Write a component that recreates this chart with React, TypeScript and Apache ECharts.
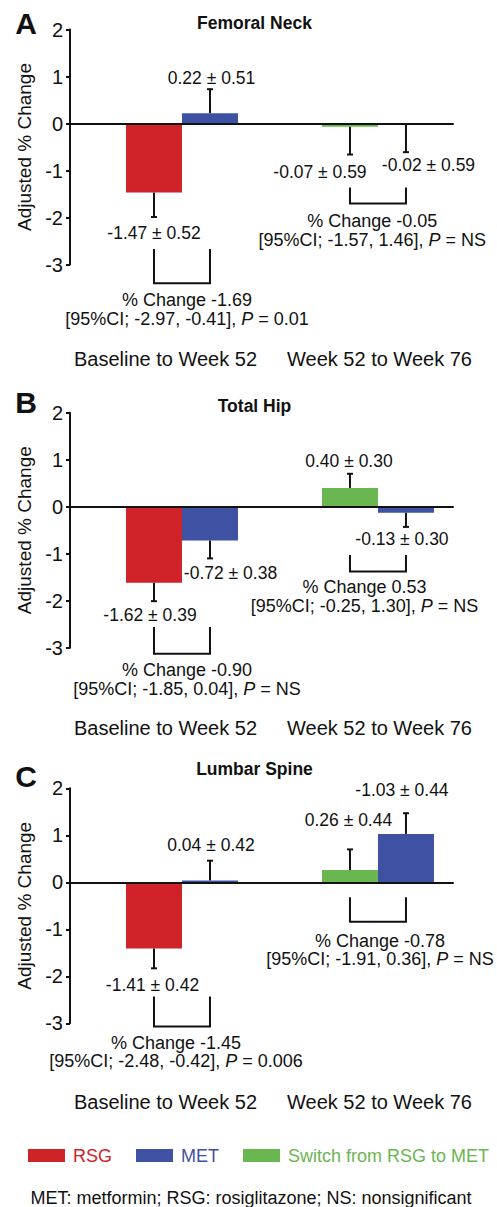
import React, { useEffect, useRef } from "react";
import * as echarts from "echarts";

// ---------- DATA ----------
const panelLetters = ["A", "B", "C"];
const panelTitles = ["Femoral Neck", "Total Hip", "Lumbar Spine"];
const periods = ["Baseline to Week 52", "Week 52 to Week 76"];
const treatments = ["RSG", "MET", "Switch from RSG to MET"];

const rsgWk52 = [-1.47, -1.62, -1.41];
const rsgWk52SE = [0.52, 0.39, 0.42];
const metWk52 = [0.22, -0.72, 0.04];
const metWk52SE = [0.51, 0.38, 0.42];
const switchWk76 = [-0.07, 0.4, 0.26];
const switchWk76SE = [0.59, 0.3, 0.44];
const metWk76 = [-0.02, -0.13, 1.03];
const metWk76SE = [0.59, 0.3, 0.44];

// labels exactly as printed in the figure (slot order: RSG, MET wk52, Switch, MET wk76)
const valueLabels = [
  ["-1.47 ± 0.52", "0.22 ± 0.51", "-0.07 ± 0.59", "-0.02 ± 0.59"],
  ["-1.62 ± 0.39", "-0.72 ± 0.38", "0.40 ± 0.30", "-0.13 ± 0.30"],
  ["-1.41 ± 0.42", "0.04 ± 0.42", "0.26 ± 0.44", "-1.03 ± 0.44"],
];
const pctChange = [
  ["-1.69", "-0.05"],
  ["-0.90", "0.53"],
  ["-1.45", "-0.78"],
];
const ciLow = [
  ["-2.97", "-1.57"],
  ["-1.85", "-0.25"],
  ["-2.48", "-1.91"],
];
const ciHigh = [
  ["-0.41", "1.46"],
  ["0.04", "1.30"],
  ["-0.42", "0.36"],
];
const pValues = [
  ["0.01", "NS"],
  ["NS", "NS"],
  ["0.006", "NS"],
];
const footnote = "MET: metformin; RSG: rosiglitazone; NS: nonsignificant";

const Y_MIN = -3;
const Y_MAX = 2;
const Y_INTERVAL = 1;

// ---------- LAYOUT / STYLE ----------
const W = 497;
const H = 1207;
const FONT = "'Liberation Sans', Arial, Helvetica, sans-serif";
const INK = "#111111";
const RED = "#CF2229";
const BLUE = "#3F51A3";
const GREEN = "#6AB650";
const colors = [RED, BLUE, GREEN];

const gridTops = [29.5, 412.7, 788.3];
const GRID_LEFT = 70;
const GRID_WIDTH = 383;
const GRID_HEIGHT = 235;
const X_MAX = 6.84;
const slotCenters = [1.5, 2.5, 5, 6];
const BAR_HALF = 0.5;
const groupSlots = [
  [0, 1],
  [2, 3],
];
const groupCenters = [2, 5.5];

// pixel offsets of value labels from error-bar end
const labelOffsets = [
  [[0, 16], [1.5, -11], [-30, 17.5], [22.5, 13]],
  [[-4, 14], [20.5, 15], [-1, -13], [-4, 12]],
  [[-1.5, 17], [1, -16], [-1.5, -29], [-4, -23.6]],
];
// bracket spans in axis units [top, bottom]
const bracketSpans = [
  [[-2.67, -3.4], [-1.36, -1.7]],
  [[-2.56, -3.13], [-1.03, -1.38]],
  [[-2.43, -3.07], [-0.32, -0.84]],
];
// pixel offsets of comparison text from bracket bottom centre
const compOffsets = [
  [[5, 17], [-5.7, 18]],
  [[5, 16], [-13.4, 15.6]],
  [[-6, 16], [2, 19]],
];
const COMP_LINE = 18.7;
const periodLabelDy = [94.8, 80.6, 78.7];
const periodLabelDx = [-16.5, 1.5];
const letterY = [23.3, 402, 776];
const titleY = [23.3, 406, 769];

function textStyle(text: string, size: number, extra: any = {}) {
  return {
    text,
    fill: INK,
    fontSize: size,
    fontFamily: FONT,
    align: "center",
    verticalAlign: "middle",
    textAlign: "center",
    textVerticalAlign: "middle",
    ...extra,
  };
}

function barRender(p: number) {
  return (params: any, api: any) => {
    const slot = api.value(0) as number;
    const v = api.value(1) as number;
    const se = api.value(2) as number;
    const cx = slotCenters[slot];
    const a = api.coord([cx - BAR_HALF, v]);
    const b = api.coord([cx + BAR_HALF, 0]);
    const top = api.coord([cx, v]);
    const end = api.coord([cx, v >= 0 ? v + se : v - se]);
    const [dx, dy] = labelOffsets[p][slot];
    return {
      type: "group",
      children: [
        {
          type: "rect",
          shape: {
            x: Math.min(a[0], b[0]),
            y: Math.min(a[1], b[1]),
            width: Math.abs(b[0] - a[0]),
            height: Math.abs(b[1] - a[1]),
          },
          style: { fill: api.visual("color") },
        },
        {
          type: "line",
          shape: { x1: top[0], y1: top[1], x2: end[0], y2: end[1] },
          style: { stroke: INK, lineWidth: 2 },
        },
        {
          type: "line",
          shape: { x1: end[0] - 3, y1: end[1], x2: end[0] + 3, y2: end[1] },
          style: { stroke: INK, lineWidth: 2 },
        },
        {
          type: "text",
          x: end[0] + dx,
          y: end[1] + dy,
          style: textStyle(valueLabels[p][slot], 17.5),
        },
      ],
    };
  };
}

function compRender(p: number) {
  return (params: any, api: any) => {
    const g = api.value(0) as number;
    const [s0, s1] = groupSlots[g];
    const [yTop, yBot] = bracketSpans[p][g];
    const a = api.coord([slotCenters[s0], yTop]);
    const b = api.coord([slotCenters[s0], yBot]);
    const c = api.coord([slotCenters[s1], yBot]);
    const d = api.coord([slotCenters[s1], yTop]);
    const mid = (b[0] + c[0]) / 2;
    const [dx, dy] = compOffsets[p][g];
    const axisBottom = api.coord([groupCenters[g], Y_MIN]);
    const rich = {
      i: { fontStyle: "italic", fontSize: 18, fontFamily: FONT, fill: INK },
      n: { fontSize: 18, fontFamily: FONT, fill: INK },
    };
    return {
      type: "group",
      children: [
        {
          type: "polyline",
          shape: { points: [a, b, c, d] },
          style: { stroke: INK, lineWidth: 2, fill: "none" },
        },
        {
          type: "text",
          x: mid + dx,
          y: b[1] + dy,
          style: textStyle(`% Change ${pctChange[p][g]}`, 18),
        },
        {
          type: "text",
          x: mid + dx,
          y: b[1] + dy + COMP_LINE,
          style: textStyle(
            `{n|[95%CI; ${ciLow[p][g]}, ${ciHigh[p][g]}], }{i|P}{n| = ${pValues[p][g]}}`,
            18,
            { rich }
          ),
        },
        {
          type: "text",
          x: axisBottom[0] + periodLabelDx[g],
          y: axisBottom[1] + periodLabelDy[p],
          style: textStyle(periods[g], 20),
        },
      ],
    };
  };
}

function buildOption() {
  const grid = gridTops.map((t) => ({
    left: GRID_LEFT,
    top: t,
    width: GRID_WIDTH,
    height: GRID_HEIGHT,
  }));
  const xAxis = gridTops.map((_, i) => ({
    type: "value",
    gridIndex: i,
    min: 0,
    max: X_MAX,
    z: 5,
    axisLine: { show: true, onZero: true, lineStyle: { color: INK, width: 2 } },
    axisTick: { show: false },
    axisLabel: { show: false },
    splitLine: { show: false },
  }));
  const yAxis = gridTops.map((_, i) => ({
    type: "value",
    gridIndex: i,
    min: Y_MIN,
    max: Y_MAX,
    interval: Y_INTERVAL,
    axisLine: { show: true, onZero: false, lineStyle: { color: INK, width: 2 } },
    axisTick: { show: true, inside: false, length: 4, lineStyle: { color: INK, width: 2 } },
    axisLabel: { fontSize: 20, color: INK, fontFamily: FONT, margin: 7 },
    splitLine: { show: false },
    name: "Adjusted % Change",
    nameLocation: "middle",
    nameGap: 31,
    nameTextStyle: { fontSize: 19, color: INK, fontFamily: FONT },
  }));

  const series: any[] = [];
  gridTops.forEach((_, p) => {
    const common = {
      type: "custom",
      xAxisIndex: p,
      yAxisIndex: p,
      renderItem: barRender(p),
      encode: { x: 0, y: 1 },
      clip: false,
    };
    series.push({
      ...common,
      name: treatments[0],
      itemStyle: { color: RED },
      data: [[0, rsgWk52[p], rsgWk52SE[p]]],
    });
    series.push({
      ...common,
      name: treatments[1],
      itemStyle: { color: BLUE },
      data: [
        [1, metWk52[p], metWk52SE[p]],
        [3, metWk76[p], metWk76SE[p]],
      ],
    });
    series.push({
      ...common,
      name: treatments[2],
      itemStyle: { color: GREEN },
      data: [[2, switchWk76[p], switchWk76SE[p]]],
    });
    series.push({
      type: "custom",
      name: "comparison" + p,
      xAxisIndex: p,
      yAxisIndex: p,
      renderItem: compRender(p),
      encode: { x: 0, y: 1 },
      clip: false,
      silent: true,
      data: [
        [0, 0],
        [1, 0],
      ],
    });
  });

  const graphic: any[] = [];
  panelLetters.forEach((l, i) => {
    graphic.push({
      type: "text",
      x: 26,
      y: letterY[i],
      style: textStyle(l, 30, { fontWeight: "bold" }),
    });
    graphic.push({
      type: "text",
      x: 254.5,
      y: titleY[i],
      style: textStyle(panelTitles[i], 17.5, { fontWeight: "bold" }),
    });
  });
  graphic.push({
    type: "text",
    x: 251,
    y: 1198,
    style: textStyle(footnote, 18),
  });

  return {
    animation: false,
    backgroundColor: "#ffffff",
    grid,
    xAxis,
    yAxis,
    series,
    graphic,
    legend: {
      left: 23,
      top: 1141.5,
      icon: "rect",
      itemWidth: 37,
      itemHeight: 13,
      itemGap: 24,
      selectedMode: false,
      textStyle: { fontSize: 18, fontFamily: FONT, padding: [0, 0, 0, 3] },
      data: treatments.map((t, i) => ({ name: t, textStyle: { color: colors[i] } })),
    },
  };
}

export default function App() {
  const ref = useRef<HTMLDivElement>(null);
  useEffect(() => {
    document.body.style.margin = "0";
    const chart = echarts.init(ref.current!, null, { renderer: "svg" });
    chart.setOption(buildOption() as any);
    return () => chart.dispose();
  }, []);
  return <div ref={ref} style={{ width: W, height: H }} />;
}
